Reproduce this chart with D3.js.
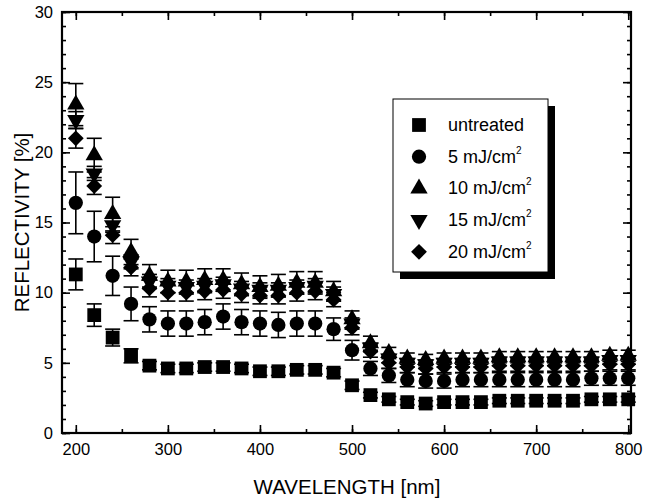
<!DOCTYPE html>
<html>
<head>
<meta charset="utf-8">
<script src="https://cdn.jsdelivr.net/npm/d3@7"></script>
<style>
  body { margin: 0; background: #fff; }
  text { font-family: "Liberation Sans", Arial, sans-serif; fill: #000; }
</style>
</head>
<body>
<div id="chart"></div>
<script>
// wavelengths 200..800 nm, every 20 nm
const wavelengths = [200,220,240,260,280,300,320,340,360,380,400,420,440,460,480,500,
                     520,540,560,580,600,620,640,660,680,700,720,740,760,780,800];

const untreated = [11.3,8.4,6.8,5.5,4.8,4.6,4.6,4.7,4.7,4.6,4.4,4.4,4.5,4.5,4.3,3.4,
                   2.7,2.4,2.2,2.1,2.2,2.2,2.2,2.3,2.3,2.3,2.3,2.3,2.4,2.4,2.4];
const untreatedErr = [1.1,0.8,0.6,0.5,0.3,0.3,0.3,0.3,0.3,0.3,0.3,0.3,0.3,0.3,0.3,0.3,
                      0.2,0.2,0.2,0.2,0.2,0.2,0.2,0.2,0.2,0.2,0.2,0.2,0.2,0.2,0.2];

const mj5 = [16.4,14.0,11.2,9.2,8.1,7.8,7.8,7.9,8.3,7.9,7.8,7.7,7.8,7.8,7.4,5.9,
             4.6,4.1,3.8,3.7,3.7,3.8,3.8,3.8,3.8,3.8,3.8,3.8,3.9,3.9,3.9];
const mj5Err = [2.2,1.8,1.4,1.2,0.9,0.9,0.9,0.9,0.9,0.9,0.9,0.9,0.9,0.9,0.8,0.7,
                0.5,0.5,0.5,0.5,0.5,0.5,0.5,0.5,0.5,0.5,0.5,0.5,0.5,0.5,0.5];

const mj10 = [23.4,19.8,15.6,12.9,11.2,10.8,10.8,10.9,10.9,10.6,10.4,10.5,10.7,10.7,10.1,8.1,
              6.4,5.7,5.3,5.2,5.3,5.3,5.3,5.4,5.4,5.4,5.4,5.4,5.4,5.5,5.5];
const mj10Err = [1.5,1.2,1.2,0.9,0.8,0.8,0.8,0.8,0.8,0.8,0.8,0.8,0.8,0.8,0.7,0.6,
                 0.5,0.4,0.4,0.4,0.4,0.4,0.4,0.4,0.4,0.4,0.4,0.4,0.4,0.4,0.4];

const mj15 = [22.3,18.5,14.8,12.2,10.8,10.5,10.4,10.5,10.6,10.3,10.2,10.2,10.4,10.5,9.9,7.8,
              6.1,5.3,5.0,4.9,5.0,5.0,5.0,5.1,5.1,5.1,5.1,5.1,5.1,5.2,5.2];
const mj15Err = [0.6,0.5,0.5,0.5,0.5,0.5,0.5,0.5,0.5,0.5,0.5,0.5,0.5,0.5,0.5,0.4,
                 0.3,0.3,0.3,0.3,0.3,0.3,0.3,0.3,0.3,0.3,0.3,0.3,0.3,0.3,0.3];

const mj20 = [21.0,17.6,14.1,11.8,10.3,10.0,10.0,10.1,10.2,9.9,9.8,9.8,10.0,10.1,9.5,7.5,
              5.8,5.0,4.7,4.6,4.7,4.7,4.7,4.8,4.8,4.8,4.8,4.8,4.8,4.9,4.9];
const mj20Err = [0.7,0.6,0.6,0.6,0.6,0.6,0.6,0.6,0.6,0.6,0.6,0.6,0.6,0.6,0.5,0.5,
                 0.4,0.4,0.4,0.4,0.4,0.4,0.4,0.4,0.4,0.4,0.4,0.4,0.4,0.4,0.4];

const seriesNames = ["untreated", "5 mJ/cm", "10 mJ/cm", "15 mJ/cm", "20 mJ/cm"];
const seriesValues = [untreated, mj5, mj10, mj15, mj20];
const seriesErrors = [untreatedErr, mj5Err, mj10Err, mj15Err, mj20Err];
const xTicks = [200,300,400,500,600,700,800];
const yTicks = [0,5,10,15,20,25,30];

const width = 645, height = 499;
const margin = {top: 12, right: 14, bottom: 66, left: 62};

const svg = d3.select("#chart").append("svg").attr("width", width).attr("height", height);

const xScale = d3.scaleLinear().domain([185, 803]).range([margin.left, width - margin.right]);
const yScale = d3.scaleLinear().domain([0, 30]).range([height - margin.bottom, margin.top]);

// marker shapes
const symbols = [
  {type: d3.symbolSquare, size: 190, rot: 0},
  {type: d3.symbolCircle, size: 160, rot: 0},
  {type: d3.symbolTriangle, size: 130, rot: 0},
  {type: d3.symbolTriangle, size: 130, rot: 180},
  {type: d3.symbolSquare, size: 125, rot: 45}
];
function markerPath(i) { return d3.symbol().type(symbols[i].type).size(symbols[i].size)(); }

// data: error bars then markers
seriesValues.forEach(function(vals, i) {
  const g = svg.append("g");
  const rows = wavelengths.map(function(w, j) { return {w: w, v: vals[j], e: seriesErrors[i][j]}; });

  g.selectAll(".bar").data(rows).enter().append("line")
    .attr("x1", d => xScale(d.w)).attr("x2", d => xScale(d.w))
    .attr("y1", d => yScale(d.v - d.e)).attr("y2", d => yScale(d.v + d.e))
    .attr("stroke", "#000").attr("stroke-width", 1.6);
  [-1, 1].forEach(function(s) {
    g.selectAll(".cap").data(rows).enter().append("line")
      .attr("x1", d => xScale(d.w) - 7.5).attr("x2", d => xScale(d.w) + 7.5)
      .attr("y1", d => yScale(d.v + s * d.e)).attr("y2", d => yScale(d.v + s * d.e))
      .attr("stroke", "#000").attr("stroke-width", 1.6);
  });
  g.selectAll(".pt").data(rows).enter().append("path")
    .attr("d", markerPath(i))
    .attr("transform", d => `translate(${xScale(d.w)},${yScale(d.v)}) rotate(${symbols[i].rot})`)
    .attr("fill", "#000");
});

// axes with inward ticks on all sides
const x0 = margin.left, x1 = width - margin.right;
const y0 = height - margin.bottom, y1 = margin.top;

svg.append("g").attr("transform", `translate(0,${y0})`)
  .call(d3.axisBottom(xScale).tickValues(d3.range(200, 801, 50)).tickSize(-4).tickFormat(""));
svg.append("g").attr("transform", `translate(0,${y0})`)
  .call(d3.axisBottom(xScale).tickValues(xTicks).tickSize(-8).tickPadding(10))
  .selectAll("text").attr("font-size", 16.5);
svg.append("g").attr("transform", `translate(0,${y1})`)
  .call(d3.axisTop(xScale).tickValues(d3.range(200, 801, 50)).tickSize(-4).tickFormat(""));
svg.append("g").attr("transform", `translate(0,${y1})`)
  .call(d3.axisTop(xScale).tickValues(xTicks).tickSize(-8).tickFormat(""));

svg.append("g").attr("transform", `translate(${x0},0)`)
  .call(d3.axisLeft(yScale).tickValues(d3.range(0, 31, 1)).tickSize(-4).tickFormat(""));
svg.append("g").attr("transform", `translate(${x0},0)`)
  .call(d3.axisLeft(yScale).tickValues(yTicks).tickSize(-8).tickPadding(9))
  .selectAll("text").attr("font-size", 16.5);
svg.append("g").attr("transform", `translate(${x1},0)`)
  .call(d3.axisRight(yScale).tickValues(d3.range(0, 31, 1)).tickSize(-4).tickFormat(""));
svg.append("g").attr("transform", `translate(${x1},0)`)
  .call(d3.axisRight(yScale).tickValues(yTicks).tickSize(-8).tickFormat(""));

svg.selectAll(".domain").remove();
svg.selectAll(".tick line").attr("stroke", "#000").attr("stroke-width", 1.6);

svg.append("rect").attr("x", x0).attr("y", y1).attr("width", x1 - x0).attr("height", y0 - y1)
  .attr("fill", "none").attr("stroke", "#000").attr("stroke-width", 2.2);

// axis titles
svg.append("text").attr("x", 347).attr("y", 494)
  .attr("text-anchor", "middle").attr("font-size", 20.5).text("WAVELENGTH [nm]");
svg.append("text").attr("transform", `translate(29,${(y0 + y1) / 2}) rotate(-90)`)
  .attr("text-anchor", "middle").attr("font-size", 20.5).text("REFLECTIVITY [%]");

// legend with drop shadow
const legend = svg.append("g").attr("transform", "translate(393,99)");
legend.append("rect").attr("x", 7).attr("y", 7).attr("width", 155).attr("height", 173).attr("fill", "#000");
legend.append("rect").attr("width", 155).attr("height", 173).attr("fill", "#fff")
  .attr("stroke", "#000").attr("stroke-width", 1);

seriesNames.forEach(function(name, i) {
  const cy = 26 + i * 31.7;
  legend.append("path").attr("d", markerPath(i))
    .attr("transform", `translate(26,${cy}) rotate(${symbols[i].rot})`).attr("fill", "#000");
  const t = legend.append("text").attr("x", 55).attr("y", cy + 6).attr("font-size", 18).text(name);
  if (i > 0) t.append("tspan").attr("font-size", 10).attr("dy", -9).text("2");
});
</script>
</body>
</html>
